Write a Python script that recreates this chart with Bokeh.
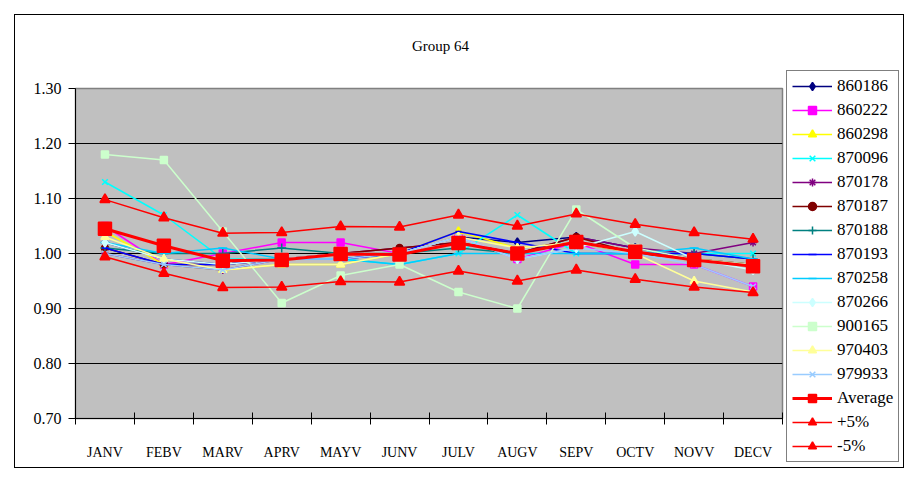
from bokeh.plotting import figure
from bokeh.models import FixedTicker, Legend, LegendItem, NumeralTickFormatter, Label, Spacer
from bokeh.layouts import row, column
from bokeh.embed import file_html
from bokeh.resources import INLINE

months = ["JANV", "FEBV", "MARV", "APRV", "MAYV", "JUNV",
          "JULV", "AUGV", "SEPV", "OCTV", "NOVV", "DECV"]
y_ticks = [0.70, 0.80, 0.90, 1.00, 1.10, 1.20, 1.30]

s860186 = [1.02, 0.99, 0.98, 0.99, 0.99, 1.00, 1.03, 1.02, 1.03, 1.01, 0.99, 0.98]
s860222 = [1.05, 0.98, 1.00, 1.02, 1.02, 1.00, 1.03, 0.99, 1.02, 0.98, 0.98, 0.94]
s860298 = [1.04, 0.98, 0.97, 0.98, 0.98, 1.00, 1.04, 1.01, 1.02, 1.00, 0.99, 0.98]
s870096 = [1.13, 1.07, 0.99, 0.99, 0.99, 0.98, 1.00, 1.07, 1.00, 1.00, 1.00, 1.00]
s870178 = [1.00, 0.98, 0.97, 0.99, 1.00, 1.01, 1.02, 1.00, 1.03, 1.01, 1.00, 1.02]
s870187 = [1.01, 0.98, 0.98, 0.99, 1.00, 1.01, 1.02, 1.00, 1.03, 1.00, 0.99, 0.98]
s870188 = [1.01, 1.00, 1.00, 1.01, 1.00, 1.00, 1.01, 1.00, 1.02, 1.00, 1.00, 0.99]
s870193 = [1.01, 0.98, 0.98, 0.99, 0.99, 1.00, 1.04, 1.02, 1.00, 1.00, 1.00, 0.99]
s870258 = [1.02, 1.00, 1.01, 0.99, 0.99, 0.98, 1.00, 1.00, 1.00, 1.00, 1.01, 0.99]
s870266 = [1.02, 0.99, 0.98, 0.99, 1.00, 1.00, 1.03, 0.99, 1.01, 1.04, 0.99, 0.97]
s900165 = [1.18, 1.17, 1.04, 0.91, 0.96, 0.98, 0.93, 0.90, 1.08, 1.01, 0.99, 0.98]
s970403 = [1.03, 0.99, 0.97, 0.98, 0.98, 1.00, 1.03, 1.01, 1.02, 1.00, 0.95, 0.93]
s979933 = [1.00, 0.98, 0.97, 0.99, 0.99, 1.00, 1.03, 0.99, 1.01, 1.00, 0.98, 0.94]
average = [1.045, 1.014, 0.987, 0.988, 0.999, 0.998, 1.019, 1.000, 1.021, 1.003, 0.988, 0.977]
plus5 = [1.098, 1.065, 1.037, 1.038, 1.049, 1.048, 1.070, 1.050, 1.072, 1.053, 1.038, 1.026]
minus5 = [0.994, 0.964, 0.938, 0.939, 0.949, 0.948, 0.968, 0.950, 0.970, 0.953, 0.939, 0.929]

x_pos = [i + 0.5 for i in range(len(months))]


def no_align(fig):
    if "frame_align" in fig.properties():
        fig.frame_align = False


# title strip
tf = figure(width=771, height=40, output_backend="svg", toolbar_location=None,
            x_axis_type=None, y_axis_type=None,
            min_border_left=0, min_border_right=0, min_border_top=0, min_border_bottom=0)
tf.outline_line_color = None
tf.background_fill_color = "white"
tf.border_fill_color = "white"
tf.xgrid.visible = False
tf.ygrid.visible = False
no_align(tf)
tf.add_layout(Label(x=425, y=10, x_units="screen", y_units="screen", text="Group 64",
                    text_align="center", text_baseline="middle",
                    text_font="Liberation Serif", text_font_size="15px", text_color="black"))

p = figure(width=771, height=412, x_range=(0, len(months)), y_range=(0.70, 1.30),
           output_backend="svg", toolbar_location=None,
           min_border_left=60, min_border_right=4, min_border_top=33, min_border_bottom=49)
no_align(p)

p.background_fill_color = "#C0C0C0"
p.border_fill_color = "white"
p.outline_line_color = "#808080"
p.outline_line_width = 1.5

# x axis: labels at category centres, tick marks at boundaries
p.xaxis.ticker = FixedTicker(ticks=x_pos, minor_ticks=list(range(len(months) + 1)))
p.xaxis.major_label_overrides = {x: m for x, m in zip(x_pos, months)}
p.xaxis.major_tick_in = 0
p.xaxis.major_tick_out = 0
p.xaxis.minor_tick_in = 6
p.xaxis.minor_tick_out = 6
p.xaxis.minor_tick_line_color = "black"
p.xaxis.major_label_standoff = 20
p.xaxis.axis_line_color = "black"
p.xaxis.major_label_text_font = "Liberation Serif"
p.xaxis.major_label_text_font_size = "14px"
p.xaxis.major_label_text_color = "black"

p.yaxis.ticker = FixedTicker(ticks=y_ticks, minor_ticks=[])
p.yaxis.formatter = NumeralTickFormatter(format="0.00")
p.yaxis.major_tick_in = 0
p.yaxis.major_tick_out = 7
p.yaxis.major_label_standoff = 7
p.yaxis.axis_line_color = "black"
p.yaxis.major_tick_line_color = "black"
p.yaxis.major_label_text_font = "Liberation Serif"
p.yaxis.major_label_text_font_size = "16px"
p.yaxis.major_label_text_color = "black"

p.xgrid.visible = False
p.ygrid.ticker = FixedTicker(ticks=y_ticks)
p.ygrid.grid_line_color = "black"
p.ygrid.grid_line_width = 1

series = [
    ("860186", s860186, "#000080", "diamond", 9, 1.5),
    ("860222", s860222, "#FF00FF", "square", 7, 1.5),
    ("860298", s860298, "#FFFF00", "triangle", 8, 1.5),
    ("870096", s870096, "#00FFFF", "x", 8, 1.5),
    ("870178", s870178, "#800080", "asterisk", 8, 1.5),
    ("870187", s870187, "#800000", "circle", 7, 1.5),
    ("870188", s870188, "#008080", "cross", 9, 1.5),
    ("870193", s870193, "#0000FF", "dash", 6, 1.5),
    ("870258", s870258, "#00CCFF", "dash", 9, 1.5),
    ("870266", s870266, "#CCFFFF", "diamond", 9, 1.5),
    ("900165", s900165, "#CCFFCC", "square", 7, 1.5),
    ("970403", s970403, "#FFFF99", "triangle", 8, 1.5),
    ("979933", s979933, "#99CCFF", "x", 8, 1.5),
    ("Average", average, "#FF0000", "square", 13, 3),
    ("+5%", plus5, "#FF0000", "triangle", 10, 1.5),
    ("-5%", minus5, "#FF0000", "triangle", 10, 1.5),
]

# separate panel that carries the legend (full chart height)
lf = figure(width=117, height=452, x_range=(0, 1), y_range=(0, 1),
            output_backend="svg", toolbar_location=None,
            x_axis_type=None, y_axis_type=None,
            min_border_left=0, min_border_right=0, min_border_top=0, min_border_bottom=0)
lf.outline_line_color = None
lf.background_fill_color = "white"
lf.border_fill_color = "white"
lf.xgrid.visible = False
lf.ygrid.visible = False
no_align(lf)

items = []
for name, vals, color, marker, size, lw in series:
    p.line(x_pos, vals, line_color=color, line_width=lw)
    p.scatter(x_pos, vals, marker=marker, size=size, fill_color=color,
              line_color=color, line_width=1.5)
    l1 = lf.line(x_pos, vals, line_color=color, line_width=lw, visible=False)
    l2 = lf.scatter(x_pos, vals, marker=marker, size=size, fill_color=color,
                    line_color=color, line_width=1.5, visible=False)
    items.append(LegendItem(label=name, renderers=[l1, l2]))

legend = Legend(items=items, location=(0, 5))
legend.border_line_color = "black"
legend.border_line_width = 1
legend.background_fill_color = "white"
legend.background_fill_alpha = 1
legend.label_text_font = "Liberation Serif"
legend.label_text_font_size = "17px"
legend.label_text_color = "black"
legend.glyph_width = 40
legend.glyph_height = 20
legend.label_height = 20
legend.spacing = 4
legend.padding = 5
legend.margin = 0
legend.label_standoff = 5
lf.add_layout(legend)

inner = row(column(tf, p), lf, styles={"border": "1px solid black"})
root = column(Spacer(height=14), row(Spacer(width=14), inner))

open("out.html", "w").write(file_html(root, INLINE))
